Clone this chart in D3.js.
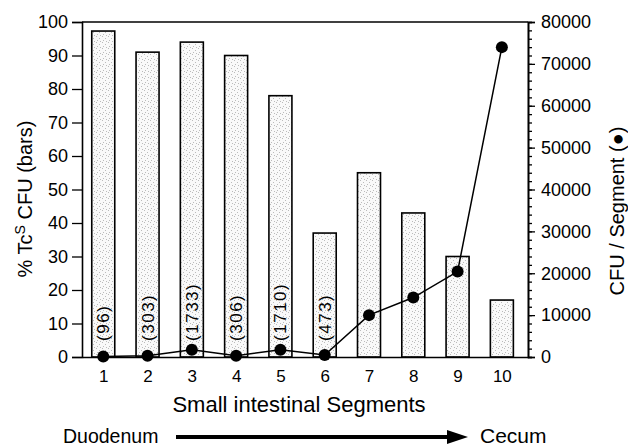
<!DOCTYPE html>
<html>
<head>
<meta charset="utf-8">
<script src="https://cdn.jsdelivr.net/npm/d3@7"></script>
<style>
  body { margin: 0; background: #fff; }
  text { font-family: "Liberation Sans", Arial, Helvetica, sans-serif; fill: #000; }
</style>
</head>
<body>
<script>
// data
var segments = [1, 2, 3, 4, 5, 6, 7, 8, 9, 10];
var pctTcS = [97.3, 91, 94, 90, 78, 37, 55, 43, 30, 17];          // bars, left axis
var cfuPerSegment = [96, 303, 1733, 306, 1710, 473, 10000, 14200, 20400, 74000]; // dots, right axis
var cfuLabels = ["(96)", "(303)", "(1733)", "(306)", "(1710)", "(473)"];
var leftTicks = [0, 10, 20, 30, 40, 50, 60, 70, 80, 90, 100];
var rightTicks = [0, 10000, 20000, 30000, 40000, 50000, 60000, 70000, 80000];

var w = 628, h = 446;
var mLeft = 82, mRight = 528, mTop = 22, mBottom = 357;

var svg = d3.select("body").append("svg").attr("width", w).attr("height", h);

// stipple pattern for the bars
var defs = svg.append("defs");
var pat = defs.append("pattern").attr("id", "stip")
    .attr("patternUnits", "userSpaceOnUse").attr("width", 6).attr("height", 6);
pat.append("rect").attr("width", 6).attr("height", 6).attr("fill", "#f9f9f9");
[[0, 0], [3, 2], [1, 4], [4, 5]].forEach(function(p) {
    pat.append("rect").attr("x", p[0]).attr("y", p[1]).attr("width", 1).attr("height", 1).attr("fill", "#bbb");
});

var x = d3.scaleLinear().domain([0.52, 10.59]).range([mLeft, mRight]);
var yL = d3.scaleLinear().domain([0, 100]).range([mBottom, mTop]);
var yR = d3.scaleLinear().domain([0, 80000]).range([mBottom, mTop]);

var barW = 23;

// bars
svg.selectAll("rect.bar")
    .data(segments)
    .enter()
    .append("rect")
    .attr("class", "bar")
    .attr("x", function(d) { return x(d) - barW / 2; })
    .attr("y", function(d, i) { return yL(pctTcS[i]); })
    .attr("width", barW)
    .attr("height", function(d, i) { return mBottom - yL(pctTcS[i]); })
    .attr("fill", "url(#stip)")
    .attr("stroke", "#000")
    .attr("stroke-width", 1.6);

// frame: top line
svg.append("line").attr("x1", mLeft).attr("x2", mRight).attr("y1", mTop).attr("y2", mTop)
    .attr("stroke", "#000").attr("stroke-width", 1.5);

// left axis
var axL = svg.append("g").attr("transform", "translate(" + mLeft + ",0)")
    .call(d3.axisLeft(yL).tickValues(leftTicks).tickSize(10).tickPadding(4));
axL.selectAll("text").style("font-size", "18px");

// right axis
var minor = d3.range(0, 80001, 2000);
svg.append("g").attr("transform", "translate(" + mRight + ",0)")
    .call(d3.axisRight(yR).tickValues(minor).tickSize(4).tickFormat(""));
var axR = svg.append("g").attr("transform", "translate(" + mRight + ",0)")
    .call(d3.axisRight(yR).tickValues(rightTicks).tickSize(7).tickPadding(6).tickFormat(d3.format("d")));
axR.selectAll("text").style("font-size", "18px");

// bottom axis
var axB = svg.append("g").attr("transform", "translate(0," + mBottom + ")")
    .call(d3.axisBottom(x).tickValues(segments).tickSize(0).tickPadding(13).tickFormat(d3.format("d")));
axB.selectAll("text").style("font-size", "17px");

svg.selectAll(".domain").attr("stroke-width", 1.6);
svg.selectAll(".tick line").attr("stroke-width", 1.3);

// CFU line
var line = d3.line()
    .x(function(d, i) { return x(segments[i]); })
    .y(function(d) { return yR(d); });
svg.append("path").datum(cfuPerSegment)
    .attr("d", line).attr("fill", "none").attr("stroke", "#000").attr("stroke-width", 1.5);
svg.selectAll("circle.pt")
    .data(cfuPerSegment)
    .enter()
    .append("circle")
    .attr("class", "pt")
    .attr("cx", function(d, i) { return x(segments[i]); })
    .attr("cy", function(d) { return yR(d); })
    .attr("r", 6)
    .attr("fill", "#000");

// count labels (rotated)
svg.selectAll("text.cnt")
    .data(cfuLabels)
    .enter()
    .append("text")
    .attr("class", "cnt")
    .attr("transform", function(d, i) { return "translate(" + (x(segments[i]) + 6) + "," + (yL(4.8)) + ") rotate(-90)"; })
    .style("font-size", "17px")
    .style("letter-spacing", "1.5px")
    .text(function(d) { return d; });

// axis titles
var tl = svg.append("text")
    .attr("transform", "translate(32,199) rotate(-90)")
    .attr("text-anchor", "middle")
    .style("font-size", "20px");
tl.append("tspan").text("% Tc");
tl.append("tspan").attr("dy", -7).style("font-size", "14px").text("S");
tl.append("tspan").attr("dy", 7).text(" CFU (bars)");

svg.append("text")
    .attr("transform", "translate(624,211) rotate(-90)")
    .attr("text-anchor", "middle")
    .style("font-size", "20px")
    .text("CFU / Segment (\u25CF)");

svg.append("text")
    .attr("x", 299).attr("y", 412)
    .attr("text-anchor", "middle")
    .style("font-size", "22px")
    .text("Small intestinal Segments");

// Duodenum -> Cecum arrow
svg.append("text").attr("x", 63).attr("y", 443).style("font-size", "19.5px").text("Duodenum");
svg.append("text").attr("x", 480).attr("y", 443).style("font-size", "21px").text("Cecum");
svg.append("line").attr("x1", 176).attr("x2", 450).attr("y1", 437).attr("y2", 437)
    .attr("stroke", "#000").attr("stroke-width", 4);
svg.append("path").attr("d", "M447,430 L468,437 L447,444 Z").attr("fill", "#000");
</script>
</body>
</html>
